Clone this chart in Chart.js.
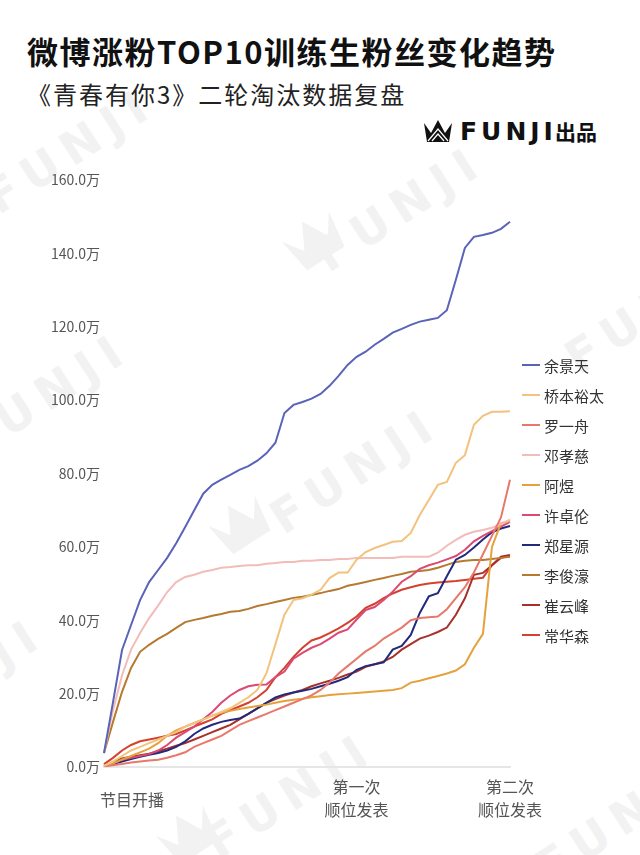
<!DOCTYPE html>
<html lang="zh-CN">
<head>
<meta charset="utf-8">
<script src="https://cdn.jsdelivr.net/npm/chart.js@4.4.1/dist/chart.umd.min.js"></script>
<style>
  html, body { margin: 0; padding: 0; background: #fff; }
  body { width: 640px; height: 855px; position: relative; overflow: hidden;
         font-family: "Noto Sans CJK SC", "Noto Sans", sans-serif; color: #111; }
  #title { position: absolute; left: 27px; top: 28px; font-size: 31px; font-weight: 700; letter-spacing: 1.5px; white-space: nowrap; }
  #subtitle { position: absolute; left: 27px; top: 76px; font-size: 24px; font-weight: 400; letter-spacing: 2px; color: #222; white-space: nowrap; }
  #logo { position: absolute; left: 424px; top: 116px; height: 30px; display: flex; align-items: center; white-space: nowrap; }
  #logo .brand { font-family: "DejaVu Sans"; font-weight: 900; font-size: 25px; letter-spacing: 4px; margin-left: 8px; }
  #logo .cn { font-size: 21px; font-weight: 700; margin-left: -2px; }
  .wm { position: absolute; width: 300px; height: 60px; line-height: 60px; text-align: center;
        font-family: "DejaVu Sans"; font-weight: bold; font-size: 46px; letter-spacing: 10px;
        color: #f2f2f2; transform: rotate(-33deg); white-space: nowrap; }
  .wmc { position: absolute; width: 56px; height: 44px; transform: rotate(-33deg); }
  #chartBox { position: absolute; left: 0; top: 160px; width: 640px; height: 695px; }
  #legend { position: absolute; left: 522px; top: 350px; }
  #legend .item { height: 30px; display: flex; align-items: center; font-size: 15px; color: #333; }
  #legend .swatch { width: 18px; height: 2px; margin-right: 4px; }
</style>
</head>
<body>

<!-- watermarks -->
<div class="wm" style="left:250px; top:178px;">FUNJI</div>
<svg class="wmc" style="left:286px; top:218px;" viewBox="0 0 28 22"><path d="M0 3 L7 13 L14 0 L21 13 L28 3 L25 22 L3 22 Z" fill="#f2f2f2"/></svg>
<div class="wm" style="left:-105px; top:365px;">FUNJI</div>
<div class="wm" style="left:205px; top:440px;">FUNJI</div>
<svg class="wmc" style="left:212px; top:502px;" viewBox="0 0 28 22"><path d="M0 3 L7 13 L14 0 L21 13 L28 3 L25 22 L3 22 Z" fill="#f2f2f2"/></svg>
<div class="wm" style="left:-190px; top:650px;">FUNJI</div>
<div class="wm" style="left:140px; top:765px;">FUNJI</div>
<svg class="wmc" style="left:160px; top:812px;" viewBox="0 0 28 22"><path d="M0 3 L7 13 L14 0 L21 13 L28 3 L25 22 L3 22 Z" fill="#f2f2f2"/></svg>
<div class="wm" style="left:500px; top:280px;">FUNJI</div>
<div class="wm" style="left:470px; top:790px;">FUNJI</div>
<div class="wm" style="left:-80px; top:120px;">FUNJI</div>

<div id="title">微博涨粉TOP10训练生粉丝变化趋势</div>
<div id="subtitle">《青春有你3》二轮淘汰数据复盘</div>
<div id="logo">
  <svg width="28" height="24" viewBox="0 0 28 22">
    <path d="M0 3 L7 13 L14 0 L21 13 L28 3 L25 22 L3 22 Z" fill="#111"/>
    <path d="M4 21 L14 9 L24 21 M8 21 L14 14 L20 21" stroke="#fff" stroke-width="1.2" fill="none"/>
  </svg>
  <span class="brand">FUNJI</span><span class="cn">出品</span>
</div>

<div id="chartBox"><canvas id="fansChart" width="640" height="695"></canvas></div>
<div id="legend"></div>

<script>
// 每日粉丝累计增量 (单位: 万)
const days = ['D0','D1','D2','D3','D4','D5','D6','D7','D8','D9',
              'D10','D11','D12','D13','D14','D15','D16','D17','D18','D19',
              'D20','D21','D22','D23','D24','D25','D26','D27','D28','D29',
              'D30','D31','D32','D33','D34','D35','D36','D37','D38','D39',
              'D40','D41','D42','D43','D44','D45'];

const yuJingtian = [3.8, 17.7, 31.9, 38.7, 45.5, 50.4, 53.7, 57, 61, 65.4,
                    70, 74.5, 76.9, 78.3, 79.6, 81, 82, 83.5, 85.5, 88.4,
                    96.5, 98.7, 99.5, 100.4, 101.7, 103.9, 106.6, 109.6, 111.8, 113.2,
                    115.1, 116.7, 118.4, 119.4, 120.5, 121.4, 121.9, 122.4, 124.5, 132.8,
                    141.5, 144.5, 145, 145.6, 146.7, 148.6];
const qiaoben = [0.3, 1.5, 3, 4.5, 5.5, 6.5, 7.5, 8.5, 9.5, 11,
                 12, 13, 14, 15, 16, 17.5, 19, 21, 25.5, 33.5,
                 41.5, 45.5, 46, 47, 48.3, 51.5, 53, 53, 56.5, 58.6,
                 59.7, 60.5, 61.4, 61.6, 63.8, 68.7, 72.8, 76.9, 77.7, 82.9,
                 85, 93.3, 95.7, 96.8, 96.8, 97];
const luoYizhou = [0.2, 0.5, 0.8, 1.2, 1.5, 1.8, 2, 2.5, 3.2, 4,
                   5.5, 6.5, 7.5, 8.5, 10, 11.5, 12.5, 13.5, 14.5, 15.5,
                   16.5, 17.5, 18.5, 19.5, 21, 23, 25.5, 27.5, 29.5, 31.5,
                   33, 35, 36.5, 38, 40, 40.6, 40.8, 41, 43, 46,
                   49, 53, 58, 63, 68, 78.3];
const dengXiaoci = [3.8, 15.5, 25, 32, 36.5, 40.6, 44, 47.7, 50.4, 51.8,
                    52.4, 53.2, 53.7, 54.3, 54.5, 54.8, 55, 55, 55.4, 55.6,
                    55.9, 55.9, 56.2, 56.2, 56.4, 56.4, 56.7, 56.7, 57, 57,
                    57, 57, 57, 57.3, 57.3, 57.3, 57.3, 58.4, 60.3, 61.9,
                    63.3, 64.1, 64.6, 65.2, 66.3, 67.4];
const aYu = [0.3, 1, 2, 3, 4, 5, 6.5, 8.5, 10, 11,
             12, 13, 14, 14.8, 15.3, 15.8, 16.2, 16.6, 17, 17.5,
             18, 18.3, 18.6, 19, 19.3, 19.6, 19.8, 20, 20.2, 20.4,
             20.6, 20.8, 21, 21.5, 23, 23.5, 24.2, 24.8, 25.5, 26.3,
             28, 32.5, 36.3, 60, 66.5, 67];
const xuZhuolun = [0.5, 1, 2, 2.5, 3, 3.5, 4.5, 6, 8, 9.5,
                   11, 13, 15, 17.5, 19.5, 21, 22, 22.4, 22.5, 24.5,
                   26, 29.5, 31.1, 32.5, 33.5, 35, 36.6, 37.5, 40.2, 42.8,
                   43.6, 45.5, 47.8, 50.5, 52, 54, 55, 55.7, 56.6, 57.5,
                   59.2, 61.5, 63, 64.3, 65.5, 66.8];
const zhengXingyuan = [0.2, 0.8, 1.5, 2.2, 2.8, 3.3, 3.8, 4.5, 5.5, 7,
                       9, 10.5, 11.5, 12.3, 12.8, 13.2, 14.5, 16, 17.5, 19,
                       19.8, 20.3, 20.8, 21.3, 22, 22.7, 23.5, 24.5, 26.5, 27.5,
                       28, 28.5, 32, 33, 36, 42, 46.5, 47.4, 52, 56.5,
                       57.8, 59.8, 62, 64, 65, 65.7];
const liJunhao = [3.8, 12.3, 20.5, 27, 31.4, 33.3, 34.9, 36.3, 37.9, 39.5,
                  40.1, 40.6, 41.2, 41.7, 42.3, 42.5, 43.1, 43.9, 44.4, 45,
                  45.5, 46.1, 46.4, 46.9, 47.4, 48, 48.5, 49.4, 49.9, 50.4,
                  51, 51.5, 52.1, 52.6, 53.2, 53.4, 53.7, 54.3, 55.1, 55.9,
                  56.2, 56.4, 56.4, 56.7, 57, 57.3];
const cuiYunfeng = [0.3, 1.2, 2.3, 2.8, 3.2, 3.6, 4.3, 5, 5.8, 6.5,
                    7.5, 8.5, 9.5, 10.5, 11.5, 13, 14.5, 16, 17.5, 18.5,
                    19.5, 20.3, 21, 22, 22.8, 23.5, 24.3, 25.2, 26, 27.3,
                    28, 28.8, 30, 32, 33.5, 35, 35.8, 36.8, 38, 41.5,
                    46, 52.4, 52.9, 55, 57.3, 57.8];
const changHuasen = [0.8, 2.5, 4.5, 6, 7, 7.5, 8, 8.5, 9, 10,
                     11, 12, 13, 14.5, 15.5, 16.5, 17.5, 19, 21, 24.5,
                     27, 30, 32.5, 34.5, 35.3, 36.5, 37.8, 39.3, 41, 43.4,
                     44.5, 46, 47.3, 48.3, 49, 49.6, 50, 50.3, 50.5, 50.7,
                     51, 51.3, 51.6, 55, 57, 57.5];

const names  = ['余景天', '桥本裕太', '罗一舟', '邓孝慈', '阿煜', '许卓伦', '郑星源', '李俊濠', '崔云峰', '常华森'];
const series = [yuJingtian, qiaoben, luoYizhou, dengXiaoci, aYu, xuZhuolun, zhengXingyuan, liJunhao, cuiYunfeng, changHuasen];
const COLORS = ['#5a63b8', '#f3c27d', '#e8786b', '#f2bcb8', '#e5a23c', '#db4a72', '#232a7c', '#b5792f', '#a8302a', '#d4412e'];

// x轴节点标注
const markIndex  = [0, 28, 45];
const markLabels = [['节目开播'], ['第一次', '顺位发表'], ['第二次', '顺位发表']];

Chart.defaults.font.family = '"Noto Sans CJK SC", "Noto Sans", sans-serif';

// 在x轴下方画节点文字 (位置取自x轴刻度)
const markLabelPlugin = {
    id: 'markLabels',
    afterDraw(chart) {
        const { ctx, scales: { x, y } } = chart;
        const base = y.getPixelForValue(0);
        ctx.save();
        ctx.fillStyle = '#555';
        ctx.font = '16px "Noto Sans CJK SC"';
        ctx.textBaseline = 'middle';
        markIndex.forEach((idx, i) => {
            const px = x.getPixelForValue(idx);
            const lines = markLabels[i];
            if (lines.length === 1) {
                ctx.textAlign = 'left';
                ctx.fillText(lines[0], px - 4, base + 33);
            } else {
                ctx.textAlign = 'center';
                lines.forEach((t, j) => ctx.fillText(t, px, base + 20 + j * 23));
            }
        });
        ctx.restore();
    }
};

const fansChart = new Chart(document.getElementById('fansChart'), {
    type: 'line',
    data: {
        labels: days,
        datasets: series.map((d, i) => ({
            label: names[i],
            data: d,
            borderColor: COLORS[i],
            backgroundColor: COLORS[i],
            borderWidth: 2,
            pointRadius: 0,
            tension: 0,
            fill: false
        }))
    },
    options: {
        responsive: false,
        animation: false,
        devicePixelRatio: 1,
        layout: { padding: { top: 20, right: 130, left: 0, bottom: 0 } },
        plugins: { legend: { display: false }, tooltip: { enabled: false } },
        scales: {
            x: {
                offset: false,
                grid: { display: false, drawTicks: false },
                border: { display: true, color: '#e6e6e6', width: 2 },
                ticks: { display: false },
                afterFit(s) { s.height = 88; }
            },
            y: {
                min: 0,
                max: 160,
                ticks: {
                    stepSize: 20,
                    color: '#555',
                    font: { size: 14 },
                    padding: 4,
                    callback: v => v.toFixed(1) + '万'
                },
                grid: { display: false, drawTicks: false },
                border: { display: false },
                afterFit(s) { s.width = 104; }
            }
        }
    },
    plugins: [markLabelPlugin]
});

// 图例
document.getElementById('legend').innerHTML = names.map((n, i) =>
    `<div class="item"><span class="swatch" style="background:${COLORS[i]}"></span><span>${n}</span></div>`
).join('');
</script>
</body>
</html>
